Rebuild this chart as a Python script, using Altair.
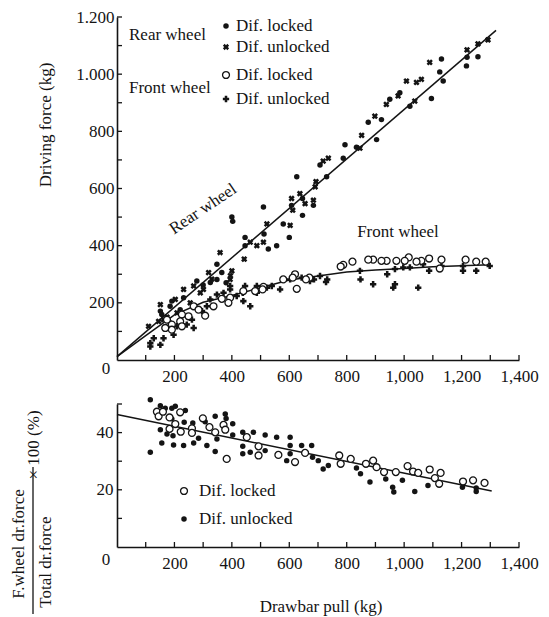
import altair as alt
import pandas as pd

FONT = "Liberation Serif"
INK = "#141414"

# ---------------- upper panel: driving force (kg) vs drawbar pull (kg) ----------------
rear_locked_x = [1219, 1217, 1257, 1130, 1124, 1136, 1095, 985, 1020, 950, 921, 875, 904, 834, 794, 788,
                 707, 730, 626, 646, 684, 608, 646, 600, 579, 556, 527, 510, 512, 446, 446, 400, 403,
                 348, 365, 348, 325, 278, 232, 191, 185, 220, 151, 156, 380, 300]
rear_locked_y = [1059, 1029, 1061, 1053, 1008, 976, 915, 935, 888, 912, 841, 832, 771, 744, 753, 706,
                 682, 641, 641, 565, 541, 541, 506, 429, 476, 400, 388, 535, 441, 400, 429, 500, 485,
                 335, 306, 282, 271, 276, 218, 206, 188, 176, 171, 159, 270, 262]

rear_unlocked_x = [1292, 1257, 1219, 1089, 1060, 1043, 1008, 979, 1037, 938, 898, 852, 846, 736, 718, 693,
                   690, 637, 655, 684, 608, 612, 603, 522, 510, 487, 464, 443, 400, 394, 359, 319, 301,
                   267, 290, 232, 255, 203, 209, 151, 162, 145, 110, 174, 395, 330]
rear_unlocked_y = [1120, 1106, 1085, 1041, 982, 971, 976, 924, 906, 894, 853, 786, 741, 706, 696, 624,
                   606, 582, 547, 559, 565, 524, 471, 476, 412, 400, 412, 353, 312, 282, 376, 306, 247,
                   259, 235, 247, 200, 212, 165, 194, 141, 135, 118, 150, 295, 283]

front_locked_x = [1284, 1251, 1214, 1130, 1124, 1087, 1060, 1043, 1016, 1002, 973, 939, 921, 892, 875, 820,
                  788, 779, 670, 658, 620, 612, 626, 579, 510, 507, 481, 440, 394, 365, 388, 307, 267,
                  249, 226, 220, 226, 191, 191, 168, 174, 284, 336]
front_locked_y = [344, 344, 351, 351, 320, 355, 347, 344, 359, 347, 347, 347, 347, 351, 351, 344,
                  333, 327, 288, 282, 300, 288, 249, 282, 256, 247, 241, 241, 218, 214, 200, 155, 188,
                  153, 159, 135, 118, 124, 106, 112, 141, 176, 188]

front_unlocked_x = [1298, 1251, 1205, 1205, 1130, 1087, 1066, 1049, 1020, 997, 968, 968, 962, 941, 892, 848,
                    846, 732, 728, 707, 686, 672, 643, 603, 568, 539, 522, 487, 487, 464, 440, 438, 446,
                    417, 394, 394, 371, 348, 325, 313, 296, 261, 243, 267, 197, 162, 151, 116, 116, 128,
                    209, 180]
front_unlocked_y = [329, 312, 312, 329, 329, 312, 335, 253, 324, 324, 318, 265, 253, 300, 265, 282,
                    312, 282, 273, 294, 282, 276, 288, 282, 247, 259, 253, 259, 235, 188, 206, 235, 259,
                    224, 259, 247, 235, 229, 212, 188, 171, 141, 124, 112, 88, 76, 53, 59, 47, 76,
                    118, 135]

rear_line_x = [0, 1320]
rear_line_y = [12, 1153]
front_line_x = [0, 100, 200, 300, 400, 500, 600, 700, 800, 900, 1000, 1100, 1200, 1300]
front_line_y = [12, 85, 158, 202, 226, 253, 280, 294, 308, 315, 320, 326, 330, 333]

# ---------------- lower panel: front share of driving force (%) ----------------
share_locked_x = [139, 145, 160, 183, 183, 203, 220, 222, 261, 261, 299, 322, 342, 371, 377, 382, 452,
                  493, 493, 562, 620, 655, 774, 779, 814, 867, 892, 904, 930, 971, 1012, 1031, 1049,
                  1089, 1107, 1127, 1122, 1205, 1240, 1280]
share_locked_y = [47.3, 45.7, 47.3, 45.3, 41.3, 43.0, 47.1, 40.3, 41.5, 39.9, 45.0, 41.9, 40.1, 42.7, 41.0,
                  30.8, 38.4, 35.2, 32.0, 32.2, 29.7, 32.9, 32.0, 29.1, 30.8, 29.1, 30.2, 27.9, 26.2, 26.2,
                  28.3, 26.4, 25.9, 27.1, 24.1, 25.9, 22.1, 22.9, 23.3, 22.4]

share_unlocked_x = [116, 116, 151, 151, 156, 168, 174, 191, 191, 195, 197, 203, 238, 234, 232, 264, 284,
                    267, 307, 313, 342, 348, 342, 377, 380, 403, 403, 438, 438, 438, 464, 475, 516, 516,
                    556, 603, 603, 603, 591, 643, 678, 681, 701, 718, 736, 834, 848, 881, 936, 960, 964,
                    994, 1037, 1083, 1203, 1251, 1251]
share_unlocked_y = [51.5, 33.1, 49.4, 41.0, 36.4, 48.5, 39.5, 48.5, 44.8, 38.9, 35.7, 49.2, 47.7, 43.6,
                    35.5, 43.4, 38.0, 36.4, 43.8, 35.5, 45.7, 37.8, 33.4, 46.5, 44.9, 43.1, 39.2, 40.1,
                    35.2, 32.6, 33.1, 40.1, 39.2, 33.7, 38.4, 38.4, 35.5, 32.6, 30.2, 35.5, 35.5, 31.4,
                    30.2, 27.3, 28.5, 27.6, 25.6, 22.7, 23.8, 20.9, 19.2, 23.3, 19.4, 21.5, 20.9, 19.4,
                    20.6]

share_line_x = [0, 1305]
share_line_y = [46.3, 19.6]

# axis ticks / labels
x_tick_values = list(range(100, 1500, 100))
x_label_values = list(range(200, 1600, 200))
top_y_tick_values = list(range(100, 1300, 100))
top_y_label_values = list(range(200, 1400, 200))
bot_y_tick_values = [10, 20, 30, 40, 50]
bot_y_label_values = [20, 40]

W, H_TOP, H_BOT = 402, 343, 143
TICK = 5

xscale = alt.Scale(domain=[0, 1400], nice=False, zero=False)
top_yscale = alt.Scale(domain=[0, 1200], nice=False, zero=False)
bot_yscale = alt.Scale(domain=[0, 50], nice=False, zero=False)

xaxis = alt.Axis(values=x_label_values, format=",.0f", title=None, labelPadding=8, labelFlush=False)
top_yaxis = alt.Axis(values=top_y_label_values, title=None, labelPadding=3,
                     labelExpr="replace(format(datum.value, ',.0f'), ',', '.')")
bot_yaxis = alt.Axis(values=bot_y_label_values, format=".0f", title=None, labelPadding=4)

one = pd.DataFrame({"a": [0]})


def X():
    return alt.X("x:Q", scale=xscale, axis=xaxis)


def Y(top):
    if top:
        return alt.Y("y:Q", scale=top_yscale, axis=top_yaxis)
    return alt.Y("y:Q", scale=bot_yscale, axis=bot_yaxis)


def df(xs, ys):
    return pd.DataFrame({"x": xs, "y": ys})


def text(txt, px, py, align="left", angle=0, size=17):
    return alt.Chart(one).mark_text(text=txt, font=FONT, fontSize=size, color=INK, align=align,
                                    baseline="middle", angle=angle).encode(x=alt.value(px), y=alt.value(py))


def glyph(px, py, **kw):
    return alt.Chart(one).mark_point(**kw).encode(x=alt.value(px), y=alt.value(py))


filled_dot = dict(shape="circle", filled=True, size=30, color=INK, opacity=1)
cross = dict(shape="cross", filled=True, size=40, color=INK, opacity=1)
xmark = dict(shape="cross", filled=True, size=40, color=INK, opacity=1, angle=45)
ring = dict(shape="circle", filled=True, size=48, fill="white", stroke=INK, strokeWidth=1.3, opacity=1)


def panel(top, h):
    xt = alt.Chart(pd.DataFrame({"x": x_tick_values})).mark_rule(color=INK, strokeWidth=1.3).encode(
        x=X(), y=alt.value(h), y2=alt.value(h - TICK))
    yvals = top_y_tick_values if top else bot_y_tick_values
    yt = alt.Chart(pd.DataFrame({"y": yvals})).mark_rule(color=INK, strokeWidth=1.3).encode(
        y=Y(top), x=alt.value(0), x2=alt.value(TICK))
    zero = alt.Chart(df([0], [0])).mark_text(text="0", font=FONT, fontSize=17, color=INK,
                                              dx=-11, dy=(9 if top else 13)).encode(x=X(), y=Y(top))
    return [xt, yt, zero]


# ---------------- build upper panel ----------------
top_layers = [
    alt.Chart(df(rear_line_x, rear_line_y)).mark_line(color=INK, strokeWidth=1.5).encode(x=X(), y=Y(True)),
    alt.Chart(df(front_line_x, front_line_y)).mark_line(color=INK, strokeWidth=1.5).encode(x=X(), y=Y(True)),
] + panel(True, H_TOP) + [
    alt.Chart(df(rear_locked_x, rear_locked_y)).mark_point(**filled_dot).encode(x=X(), y=Y(True)),
    alt.Chart(df(rear_unlocked_x, rear_unlocked_y)).mark_point(**xmark).encode(x=X(), y=Y(True)),
    alt.Chart(df(front_unlocked_x, front_unlocked_y)).mark_point(**cross).encode(x=X(), y=Y(True)),
    alt.Chart(df(front_locked_x, front_locked_y)).mark_point(**ring).encode(x=X(), y=Y(True)),
    # legend block
    text("Rear wheel", 12, 18),
    text("Front wheel", 12, 71),
    glyph(109, 9, **filled_dot),
    glyph(109, 30, **xmark),
    glyph(109, 58, **ring),
    glyph(109, 82, **cross),
    text("Dif.  locked", 119, 9),
    text("Dif. unlocked", 119, 30),
    text("Dif. locked", 119, 58),
    text("Dif. unlocked", 119, 82),
    # curve labels
    text("Rear wheel", 86, 192, align="center", angle=326),
    text("Front wheel", 281, 215, align="center"),
    # axis title
    text("Driving force  (kg)", -71, 108, align="center", angle=270),
]
top = alt.layer(*top_layers).properties(width=W, height=H_TOP)

# ---------------- build lower panel ----------------
bot_layers = [
    alt.Chart(df(share_line_x, share_line_y)).mark_line(color=INK, strokeWidth=1.5).encode(x=X(), y=Y(False)),
] + panel(False, H_BOT) + [
    alt.Chart(df(share_unlocked_x, share_unlocked_y)).mark_point(**filled_dot).encode(x=X(), y=Y(False)),
    alt.Chart(df(share_locked_x, share_locked_y)).mark_point(**ring).encode(x=X(), y=Y(False)),
    glyph(67, 87, **ring),
    glyph(67, 115, **filled_dot),
    text("Dif. locked", 82, 87),
    text("Dif. unlocked", 82, 115),
    # fraction-style y title
    text("F.wheel dr.force", -98, 140, align="center", angle=270),
    text("Total dr.force", -71, 158, align="center", angle=270),
    alt.Chart(one).mark_rule(color=INK, strokeWidth=1.3).encode(
        x=alt.value(-84), y=alt.value(63), y2=alt.value(210)),
    text("× 100 (%)", -83, 41, align="center", angle=270),
    # x title
    text("Drawbar pull  (kg)", 204, 203, align="center"),
]
bottom = alt.layer(*bot_layers).properties(width=W, height=H_BOT)

chart = alt.vconcat(top, bottom, spacing=44, bounds="flush").properties(
    padding={"left": 2, "top": 0, "right": 2, "bottom": 2}
).configure_view(stroke=None).configure_axis(
    labelFont=FONT, labelFontSize=17, labelColor=INK, domainColor=INK, domainWidth=1.6,
    grid=False, ticks=False, tickSize=0
)

chart.save("out.html", embed_options={"renderer": "svg", "actions": False})
